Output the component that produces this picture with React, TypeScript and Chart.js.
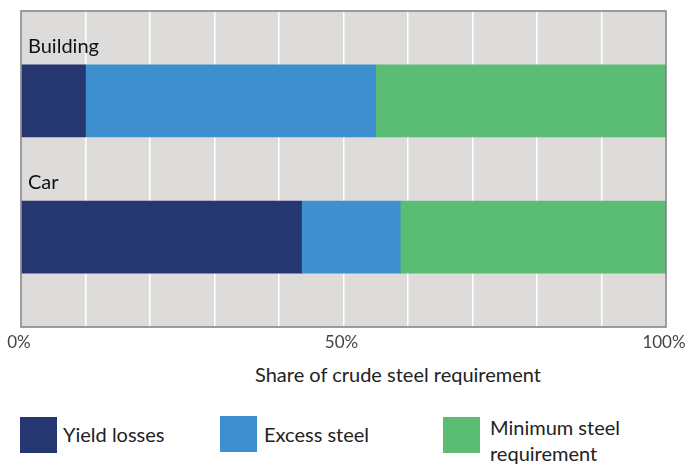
import React, { useEffect, useRef } from "react";
import { Chart, registerables } from "chart.js";

Chart.register(...registerables);

const categories = ["Building", "Car"];
const yieldLosses = [10, 43.5];
const excessSteel = [45, 15.3];
const minimumSteel = [45, 41.2];
const seriesNames = ["Yield losses", "Excess steel", "Minimum steel requirement"];
const seriesColors = ["#263671", "#3d8fce", "#5bbd73"];
const xTickLabels: Record<number, string> = { 0: "0%", 50: "50%", 100: "100%" };
const axisTitle = "Share of crude steel requirement";

const FONT = "Lato, 'Noto Sans', sans-serif";

export default function App() {
  const ref = useRef<HTMLCanvasElement | null>(null);

  useEffect(() => {
    document.body.style.margin = "0";
    const canvas = ref.current;
    if (!canvas) return;

    const bgPlugin = {
      id: "plotBg",
      beforeDraw(chart: any) {
        const { ctx, chartArea: a } = chart;
        ctx.save();
        ctx.fillStyle = "#dddcdb";
        ctx.fillRect(a.left, a.top, a.right - a.left, a.bottom - a.top);
        ctx.restore();
      },
      afterDatasetsDraw(chart: any) {
        const { ctx, chartArea: a } = chart;
        const ys = chart.scales.y;
        ctx.save();
        ctx.strokeStyle = "#7f7f7f";
        ctx.lineWidth = 1.5;
        ctx.strokeRect(a.left, a.top, a.right - a.left, a.bottom - a.top);
        ctx.fillStyle = "#111";
        ctx.font = `20px ${FONT}`;
        ctx.textBaseline = "alphabetic";
        ctx.textAlign = "left";
        categories.forEach((c, i) => {
          const yc = ys.getPixelForValue(i);
          ctx.fillText(c, a.left + 7, yc - 36 - 12);
        });
        ctx.restore();
      },
    };

    const mk = (vals: number[]) => vals.map((v, i) => ({ x: v, y: i }));

    const chart = new Chart(canvas, {
      type: "bar",
      data: {
        datasets: [
          { label: seriesNames[0], data: mk(yieldLosses), backgroundColor: seriesColors[0] },
          { label: seriesNames[1], data: mk(excessSteel), backgroundColor: seriesColors[1] },
          { label: seriesNames[2], data: mk(minimumSteel), backgroundColor: seriesColors[2] },
        ] as any,
      },
      options: {
        indexAxis: "y",
        animation: false,
        responsive: false,
        devicePixelRatio: 1,
        layout: { padding: { left: 21, right: 20, top: 11, bottom: 0 } },
        datasets: { bar: { barThickness: 72, borderWidth: 0 } } as any,
        plugins: { legend: { display: false }, tooltip: { enabled: false } },
        scales: {
          x: {
            type: "linear",
            stacked: true,
            min: 0,
            max: 100,
            border: { display: false },
            grid: { color: "#ffffff", lineWidth: 1.5, drawTicks: false },
            ticks: {
              stepSize: 10,
              autoSkip: false,
              maxRotation: 0,
              padding: 5,
              labelOffset: -2,
              color: "#444",
              font: { family: FONT, size: 17 },
              callback: (v: any) => xTickLabels[Number(v)] ?? "",
            },
            afterFit: (s: any) => {
              s.height = 33;
              s.paddingLeft = 0;
              s.paddingRight = 0;
            },
          },
          y: {
            type: "linear",
            stacked: true,
            reverse: true,
            offset: false,
            min: -0.66,
            max: 1.66,
            display: false,
          },
        } as any,
      },
      plugins: [bgPlugin],
    });
    return () => chart.destroy();
  }, []);

  const legendItems = [
    { sq: [20, 417], tx: [63, 421], name: seriesNames[0], w: 200 },
    { sq: [220, 416], tx: [264, 421], name: seriesNames[1], w: 200 },
    { sq: [443, 417], tx: [490, 414], name: seriesNames[2], w: 150 },
  ];

  return (
    <div style={{ position: "relative", width: 686, height: 464, fontFamily: FONT, overflow: "hidden" }}>
      <canvas ref={ref} width={686} height={360} style={{ position: "absolute", left: 0, top: 0 }} />
      <div
        style={{
          position: "absolute",
          left: 198,
          width: 400,
          top: 362,
          textAlign: "center",
          fontSize: 20,
          color: "#222",
          lineHeight: "24px",
        }}
      >
        {axisTitle}
      </div>
      {legendItems.map((it, i) => (
        <React.Fragment key={i}>
          <div
            style={{
              position: "absolute",
              left: it.sq[0],
              top: it.sq[1],
              width: 37,
              height: 36,
              background: seriesColors[i],
            }}
          />
          <div
            style={{
              position: "absolute",
              left: it.tx[0],
              top: it.tx[1],
              width: it.w,
              fontSize: 20,
              lineHeight: "26px",
              color: "#222",
            }}
          >
            {it.name}
          </div>
        </React.Fragment>
      ))}
    </div>
  );
}
